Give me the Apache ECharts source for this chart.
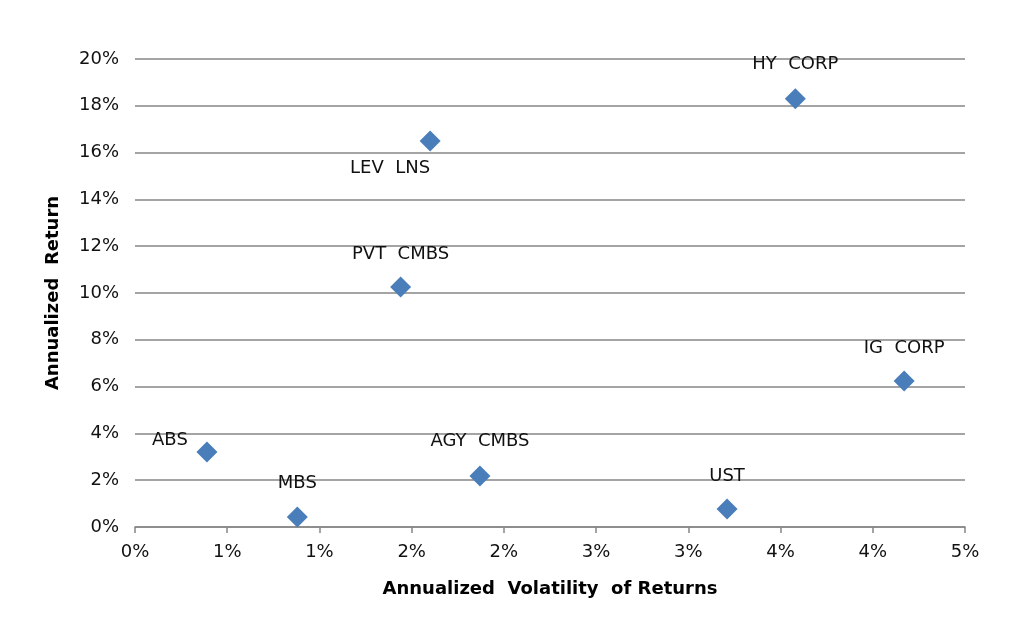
<!DOCTYPE html>
<html>
<head>
<meta charset="utf-8">
<script src="https://cdn.jsdelivr.net/npm/echarts@6/dist/echarts.min.js"></script>
<style>
  html, body { margin: 0; padding: 0; background: #fff; }
  #chart { width: 1024px; height: 635px; }
</style>
</head>
<body>
<div id="chart"></div>
<script>
// asset classes, volatility (%) and return (%)
var names = ['ABS', 'MBS', 'PVT  CMBS', 'LEV  LNS', 'AGY  CMBS', 'UST', 'HY  CORP', 'IG  CORP'];
var volatility = [0.39, 0.88, 1.44, 1.60, 1.87, 3.21, 3.58, 4.17];
var returns = [3.2, 0.43, 10.26, 16.5, 2.18, 0.77, 18.3, 6.24];
// excel rounds 0.5% steps to whole percents
var xTickLabels = ['0%', '1%', '1%', '2%', '2%', '3%', '3%', '4%', '4%', '5%'];

// label placement relative to the marker
var labelOffsets = [[-37, -12], [0, -34], [0, -33], [-40, 27], [0, -35], [0, -33], [0, -34], [0, -33]];

function buildPoints() {
    var arr = [];
    for (var i = 0; i < names.length; i++) {
        arr.push({
            name: names[i],
            value: [volatility[i], returns[i]],
            label: { offset: labelOffsets[i] }
        });
    }
    return arr;
}

var font = 'DejaVu Sans, Arial, sans-serif';
var option = {
    animation: false,
    backgroundColor: '#fff',
    grid: { left: 135, right: 59, top: 59, bottom: 108 },
    xAxis: {
        type: 'value',
        min: 0,
        max: 4.5,
        interval: 0.5,
        name: 'Annualized  Volatility  of Returns',
        nameLocation: 'middle',
        nameGap: 53,
        nameTextStyle: { fontFamily: font, fontSize: 18, fontWeight: 'bold', color: '#000' },
        axisLine: { show: true, lineStyle: { color: '#868686', width: 1.5 } },
        axisTick: { show: true, length: 6, lineStyle: { color: '#868686', width: 1.5 } },
        splitLine: { show: false },
        axisLabel: {
            fontFamily: font, fontSize: 18, color: '#111', margin: 16,
            formatter: function (v) {
                return xTickLabels[Math.round(v / 0.5)];
            }
        }
    },
    yAxis: {
        type: 'value',
        min: 0,
        max: 20,
        interval: 2,
        name: 'Annualized  Return',
        nameLocation: 'middle',
        nameGap: 73,
        nameTextStyle: { fontFamily: font, fontSize: 18, fontWeight: 'bold', color: '#000' },
        axisLine: { show: false },
        axisTick: { show: false },
        splitLine: { show: true, lineStyle: { color: '#868686', width: 1.5 } },
        axisLabel: { fontFamily: font, fontSize: 18, color: '#111', margin: 16, formatter: '{value}%' }
    },
    series: [
        {
            type: 'scatter',
            symbol: 'diamond',
            symbolSize: [21, 21],
            itemStyle: { color: '#4a7ebb', opacity: 1 },
            label: {
                show: true,
                position: 'inside',
                formatter: '{b}',
                fontFamily: font,
                fontSize: 18,
                color: '#111'
            },
            data: buildPoints()
        }
    ]
};

var chart = echarts.init(document.getElementById('chart'));
chart.setOption(option);
</script>
</body>
</html>
